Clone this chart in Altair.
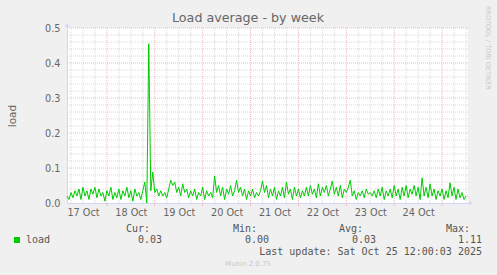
import altair as alt
import pandas as pd

# ---------------- data ----------------
# hourly load samples from 2025-10-17 04:00 to 2025-10-25 12:00 (UTC)
load_day1 = [0.02, 0.01, 0.03, 0.015, 0.035, 0.02, 0.04, 0.01, 0.045, 0.02, 0.035, 0.01,
             0.04, 0.025, 0.045, 0.015, 0.04, 0.02, 0.03, 0.005, 0.035, 0.02, 0.045, 0.01]
load_day2 = [0.03, 0.015, 0.04, 0.01, 0.035, 0.02, 0.045, 0.015, 0.035, 0.005, 0.04, 0.02,
             0.03, 0.01, 0.035, 0.06, 0.0, 0.455, 0.035, 0.088, 0.03, 0.04, 0.02, 0.035]
load_day3 = [0.02, 0.03, 0.015, 0.04, 0.065, 0.05, 0.06, 0.03, 0.045, 0.02, 0.055, 0.03,
             0.04, 0.015, 0.035, 0.02, 0.04, 0.01, 0.03, 0.02, 0.045, 0.01, 0.035, 0.02]
load_day4 = [0.03, 0.015, 0.077, 0.03, 0.05, 0.02, 0.045, 0.01, 0.04, 0.025, 0.05, 0.02,
             0.035, 0.065, 0.03, 0.045, 0.02, 0.04, 0.01, 0.035, 0.02, 0.04, 0.015, 0.03]
load_day5 = [0.02, 0.035, 0.063, 0.03, 0.05, 0.015, 0.04, 0.02, 0.045, 0.01, 0.035, 0.02,
             0.045, 0.015, 0.06, 0.025, 0.04, 0.01, 0.045, 0.02, 0.04, 0.015, 0.035, 0.02]
load_day6 = [0.045, 0.02, 0.05, 0.025, 0.04, 0.015, 0.055, 0.02, 0.045, 0.03, 0.05, 0.02,
             0.04, 0.063, 0.025, 0.045, 0.02, 0.05, 0.015, 0.04, 0.03, 0.045, 0.065, 0.02]
load_day7 = [0.035, 0.01, 0.03, 0.02, 0.035, 0.015, 0.04, 0.025, 0.03, 0.02, 0.035, 0.015,
             0.04, 0.02, 0.045, 0.01, 0.035, 0.02, 0.04, 0.015, 0.05, 0.02, 0.04, 0.01]
load_day8 = [0.045, 0.02, 0.05, 0.015, 0.04, 0.025, 0.05, 0.02, 0.045, 0.01, 0.072, 0.02,
             0.045, 0.015, 0.055, 0.02, 0.04, 0.01, 0.035, 0.02, 0.04, 0.01, 0.035, 0.015]
load_day9 = [0.058, 0.02, 0.045, 0.01, 0.04, 0.015, 0.03, 0.01, 0.02]

load_values = (load_day1 + load_day2 + load_day3 + load_day4 + load_day5 +
               load_day6 + load_day7 + load_day8 + load_day9)
sample_times = pd.date_range("2025-10-17 04:00", periods=len(load_values), freq="h")
sample_times = sample_times.strftime("%Y-%m-%dT%H:%M:%SZ").tolist()

label_days = [17, 18, 19, 20, 21, 22, 23, 24]            # tick labels at noon
midnight_days = [18, 19, 20, 21, 22, 23, 24, 25]          # major vertical grid
minor_hours = pd.date_range("2025-10-17 06:00", "2025-10-25 12:00", freq="6h")
minor_hours = [t.strftime("%Y-%m-%dT%H:%M:%SZ") for t in minor_hours if t.hour != 0]

y_major = [0.1, 0.2, 0.3, 0.4, 0.5]
y_minor = [0.02, 0.04, 0.06, 0.08, 0.12, 0.14, 0.16, 0.18, 0.22, 0.24, 0.26, 0.28,
           0.32, 0.34, 0.36, 0.38, 0.42, 0.44, 0.46, 0.48]
y_ticks = [0.0, 0.1, 0.2, 0.3, 0.4, 0.5]

title_text = "Load average - by week"
series_name = "load"
stat_headers = ["Cur:", "Min:", "Avg:", "Max:"]
stat_values = ["0.03", "0.00", "0.03", "1.11"]
last_update = "Last update: Sat Oct 25 12:00:03 2025"
footer = "Munin 2.0.75"
watermark = "RRDTOOL / TOBI OETIKER"

# ---------------- styling ----------------
FONT = "DejaVu Sans"
MONO = "DejaVu Sans Mono"
FONT_COLOR = "#666666"
AXIS_COLOR = "#CFD6F8"
MGRID = "#F4B8B8"
GRID = "#DADADA"
LINE = "#00CC00"

W, H = 401, 175
PAD_L, PAD_T = 67, 28

df = pd.DataFrame({"t": sample_times, "load": load_values})

xscale = alt.Scale(type="utc",
                   domain=[alt.DateTime(year=2025, month=10, date=17, hours=4, utc=True),
                           alt.DateTime(year=2025, month=10, date=25, hours=13, utc=True)])
yscale = alt.Scale(domain=[0, 0.5], nice=False, zero=True)

x_axis = alt.Axis(values=[alt.DateTime(year=2025, month=10, date=d, hours=12, utc=True)
                          for d in label_days],
                  labelExpr="utcFormat(datum.value, '%d %b')", grid=False, ticks=False,
                  labelFont=FONT, labelFontSize=9.7, labelColor=FONT_COLOR,
                  labelPadding=4, domainColor=AXIS_COLOR, domainWidth=1, title=None,
                  labelFlush=False, labelOverlap=False)
y_axis = alt.Axis(values=y_ticks, format=".1f", grid=False, ticks=False,
                  labelFont=FONT, labelFontSize=9.7, labelColor=FONT_COLOR,
                  labelPadding=7, domainColor=AXIS_COLOR, domainWidth=1,
                  title=series_name, titleFont=FONT, titleFontSize=10.5,
                  titleFontWeight="normal", titleColor=FONT_COLOR,
                  titleX=-52, titleBaseline="alphabetic", labelFlush=False)

X = lambda f: alt.X(f, scale=xscale, axis=x_axis)
Y = lambda f: alt.Y(f, scale=yscale, axis=y_axis)

dash = [1, 1]
midnights = [f"2025-10-{d:02d}T00:00:00Z" for d in midnight_days]

line = alt.Chart(df).mark_line(color=LINE, strokeWidth=1, interpolate="linear").encode(
    x=X("t:T"), y=Y("load:Q"))

minor_v = alt.Chart(pd.DataFrame({"t": minor_hours})).mark_rule(
    color=GRID, strokeDash=dash, strokeWidth=1).encode(x=X("t:T"))
major_v = alt.Chart(pd.DataFrame({"t": midnights})).mark_rule(
    color=MGRID, strokeDash=dash, strokeWidth=1).encode(x=X("t:T"))
major_ticks = alt.Chart(pd.DataFrame({"t": midnights})).mark_rule(
    color=MGRID, strokeWidth=1).encode(x=X("t:T"), y=alt.value(H + 1), y2=alt.value(H + 3))
minor_h = alt.Chart(pd.DataFrame({"v": y_minor})).mark_rule(
    color=GRID, strokeDash=dash, strokeWidth=1).encode(y=Y("v:Q"))
major_h = alt.Chart(pd.DataFrame({"v": y_major})).mark_rule(
    color=MGRID, strokeDash=dash, strokeWidth=1).encode(y=Y("v:Q"))

arrow_up = alt.Chart(pd.DataFrame({"t": [sample_times[0]], "v": [y_ticks[-1]]})).mark_point(
    shape="triangle-up", filled=True, size=22, color=AXIS_COLOR, opacity=1, yOffset=-3).encode(
    x=X("t:T"), y=Y("v:Q"))
arrow_r = alt.Chart(pd.DataFrame({"t": ["2025-10-25T13:00:00Z"], "v": [0.0]})).mark_point(
    shape="triangle-right", filled=True, size=22, color=AXIS_COLOR, opacity=1, xOffset=3).encode(
    x=X("t:T"), y=Y("v:Q"))

def txt(s, x, y, align="left", font=FONT, size=10, color=FONT_COLOR, angle=0, baseline="alphabetic"):
    return alt.Chart(pd.DataFrame({"s": [s]})).mark_text(
        align=align, baseline=baseline, font=font, fontSize=size, color=color, angle=angle).encode(
        x=alt.value(x - PAD_L), y=alt.value(y - PAD_T), text="s:N")

texts = [txt(title_text, 248, 22, align="center", size=12.7)]
header_right = [150, 257, 363, 470]
value_right = [162, 269, 376, 482]
for h, xr in zip(stat_headers, header_right):
    texts.append(txt(h, xr, 232, align="right", font=MONO, size=10, color="#555555"))
for v, xr in zip(stat_values, value_right):
    texts.append(txt(v, xr, 243, align="right", font=MONO, size=10, color="#555555"))
texts.append(txt(series_name, 26, 243, font=MONO, size=10, color="#555555"))
texts.append(txt(last_update, 482, 255, align="right", font=MONO, size=10, color="#555555"))
texts.append(txt(footer, 248, 266, align="center", size=7, color="#C8C8C8"))
texts.append(txt(watermark, 488, 6, align="left", size=6.5, color="#C8C8C8", angle=90,
                 baseline="middle"))

legend_sq = alt.Chart(pd.DataFrame({"s": [series_name]})).mark_square(
    color=LINE, size=36, opacity=1, filled=True).encode(
    x=alt.value(17 - PAD_L), y=alt.value(240 - PAD_T))

chart = alt.layer(
    minor_v, minor_h, major_v, major_h, major_ticks, line, arrow_up, arrow_r, legend_sq, *texts
).properties(
    width=W, height=H,
    autosize=alt.AutoSizeParams(type="none"),
    padding={"left": PAD_L, "top": PAD_T, "right": 497 - PAD_L - W, "bottom": 275 - PAD_T - H},
    background="#F0F0F0",
).configure_view(fill="white", stroke=None)

chart.save("out.html", embed_options={"renderer": "svg", "actions": False})
